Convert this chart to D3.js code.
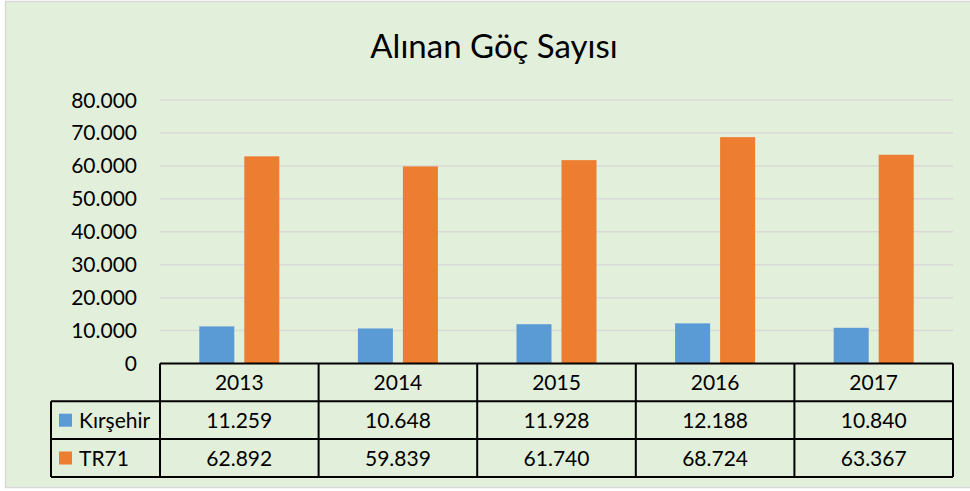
<!DOCTYPE html>
<html>
<head>
<meta charset="utf-8">
<script src="https://cdn.jsdelivr.net/npm/d3@7"></script>
<style>
  html, body { margin: 0; padding: 0; background: #fff; }
  text { font-family: Lato, "Open Sans", sans-serif; fill: #000; }
</style>
</head>
<body>
<div id="chart"></div>
<script>
const years = ['2013', '2014', '2015', '2016', '2017'];
const seriesNames = ['Kırşehir', 'TR71'];
const kirsehir = [11259, 10648, 11928, 12188, 10840];
const tr71 = [62892, 59839, 61740, 68724, 63367];
const yTicks = [0, 10000, 20000, 30000, 40000, 50000, 60000, 70000, 80000];
const title = 'Alınan Göç Sayısı';

const colors = { 'Kırşehir': '#5B9BD5', 'TR71': '#ED7D31' };
const values = { 'Kırşehir': kirsehir, 'TR71': tr71 };

const W = 970, H = 491;
const M = { l: 160, r: 953, t: 100, b: 363.5 };
const rowH = 37.8;
const labelL = 51;
const fs = '21px';

const loc = d3.formatLocale({ decimal: ',', thousands: '.', grouping: [3], currency: ['', ''] });
const fmt = loc.format(',');

const svg = d3.select('#chart').append('svg').attr('width', W).attr('height', H);

svg.append('rect').attr('x', 5.5).attr('y', 1.5).attr('width', W + 10).attr('height', 486)
  .attr('fill', '#E2EFDA').attr('stroke', '#D9D9D9').attr('stroke-width', 1.5);

svg.append('text').attr('x', 494).attr('y', 58).attr('text-anchor', 'middle')
  .style('font-size', '33px').text(title);

const x = d3.scaleBand().domain(years).range([M.l, M.r]).padding(0);
const x1 = d3.scaleBand().domain(seriesNames).range([0, x.bandwidth()]).paddingInner(0.222).paddingOuter(0.873);
const y = d3.scaleLinear().domain([0, 80000]).range([M.b, M.t]);

// gridlines
svg.append('g').selectAll('line').data(yTicks.slice(1)).enter().append('line')
  .attr('x1', M.l).attr('x2', M.r)
  .attr('y1', d => y(d)).attr('y2', d => y(d))
  .attr('stroke', '#D9D9D9').attr('stroke-width', 1.5);

// y axis labels
svg.append('g').selectAll('text').data(yTicks).enter().append('text')
  .attr('x', 137).attr('y', d => y(d)).attr('dy', '0.36em')
  .attr('text-anchor', 'end').style('font-size', fs)
  .text(d => fmt(d));

// bars
const rows = years.map((yr, i) => ({ yr, vals: seriesNames.map(s => ({ s, v: values[s][i] })) }));
const grp = svg.append('g').selectAll('g').data(rows).enter().append('g')
  .attr('transform', d => `translate(${x(d.yr)},0)`);
grp.selectAll('rect').data(d => d.vals).enter().append('rect')
  .attr('x', d => x1(d.s)).attr('width', x1.bandwidth())
  .attr('y', d => y(d.v)).attr('height', d => y(0) - y(d.v))
  .attr('fill', d => colors[d.s]);

// data table
const tbl = svg.append('g');
const tTop = M.b;
const tBot = tTop + rowH * 3;
const line = (ax, ay, bx, by) => tbl.append('line')
  .attr('x1', ax).attr('y1', ay).attr('x2', bx).attr('y2', by)
  .attr('stroke', '#000').attr('stroke-width', 2);

line(M.l, tTop, M.r, tTop);
line(labelL, tTop + rowH, M.r, tTop + rowH);
line(labelL, tTop + rowH * 2, M.r, tTop + rowH * 2);
line(labelL, tBot, M.r, tBot);
line(labelL, tTop + rowH, labelL, tBot);
years.forEach(yr => line(x(yr), tTop, x(yr), tBot));
line(M.r, tTop, M.r, tBot);

tbl.selectAll('text.hdr').data(years).enter().append('text')
  .attr('class', 'hdr')
  .attr('x', d => x(d) + x.bandwidth() / 2).attr('y', tTop + rowH / 2).attr('dy', '0.36em')
  .attr('text-anchor', 'middle').style('font-size', fs).text(d => d);

seriesNames.forEach((s, si) => {
  const cy = tTop + rowH * (si + 1) + rowH / 2;
  tbl.append('rect').attr('x', 59).attr('y', cy - 6.5).attr('width', 13).attr('height', 13)
    .attr('fill', colors[s]);
  tbl.append('text').attr('x', 79).attr('y', cy).attr('dy', '0.36em')
    .style('font-size', fs).text(s);
  tbl.selectAll(null).data(values[s]).enter().append('text')
    .attr('x', (d, i) => x(years[i]) + x.bandwidth() / 2).attr('y', cy).attr('dy', '0.36em')
    .attr('text-anchor', 'middle').style('font-size', fs)
    .text(d => fmt(d));
});
</script>
</body>
</html>
